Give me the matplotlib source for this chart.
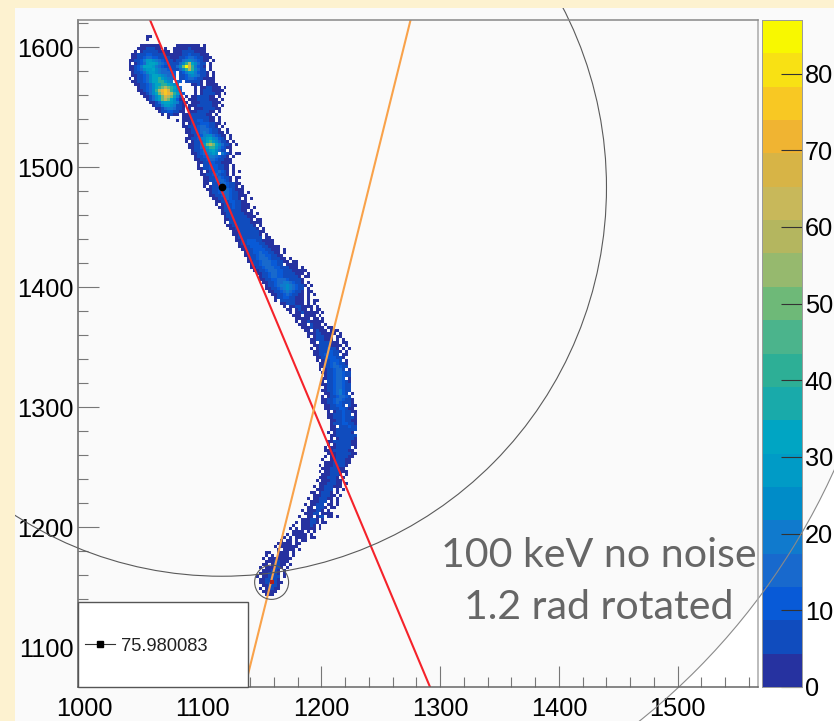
import matplotlib

matplotlib.use("Agg")
import matplotlib.pyplot as plt
import numpy as np
from matplotlib.colors import BoundaryNorm, ListedColormap
from matplotlib.patches import Ellipse, Rectangle
from matplotlib.ticker import MultipleLocator
from matplotlib.transforms import Affine2D

W, H = 834, 721
plt.rcParams["font.family"] = ["Liberation Sans", "DejaVu Sans"]

X_LIM = (994.95, 1567.6)
Y_LIM = (1066.7, 1622.5)
Z_MAX = 87.0
N_BANDS = 20

BAND_COLORS = [
    (38, 50, 160), (16, 76, 190), (8, 90, 215), (24, 105, 205), (16, 122, 205),
    (0, 140, 200), (0, 155, 198), (0, 165, 195), (25, 170, 170), (45, 175, 150),
    (75, 180, 140), (110, 185, 120), (150, 185, 110), (180, 182, 95), (200, 184, 90),
    (215, 180, 70), (240, 180, 50), (248, 200, 35), (248, 225, 20), (248, 248, 0),
]

# count read for each bucket letter used in TRACK_ROWS
BUCKET_KEYS = "123456789abcdefgjk"
BUCKET_COUNTS = [2, 3, 6, 7, 11, 15, 20, 24, 28, 33, 41, 50, 58, 67, 71, 76, 80, 85]

# histogram rows, top to bottom: first bin, then one bucket letter per bin
BIN_X0 = 1035.0
BIN_Y_TOP = 1610.0
BIN_SIZE = 2.5
TRACK_ROWS = [
    (7, "11"), (7, "1"), (0, ""),
    (5, "1122211     11122211 1"),
    (4, "12233321 1  11122322111"),
    (3, "1 2334432211 11233332111"),
    (2, "12334554433221122345433211"),
    (2, "123456655443322234566543211"),
    (1, "113457998765433234678765321 1"),
    (1, "1 23569aa9765443468bda8643 1"),
    (1, "12357aaa9765443468ckeb7532 1"),
    (1, "12356899a8766543468bdb8643 1"),
    (1, " 234568998766655 3579975432 1"),
    (2, "1234568aa987665 4357876432 1"),
    (1, "1 234568aab98765 435665432211"),
    (2, "1234568aabb987 65 344432 221"),
    (3, "1234568aabba987    2232 2211"),
    (3, " 134568abcdcba86    1 2233211 1"),
    (4, "124568bdfgeb985    2 23332211"),
    (5, "12468acegfdb985   1 2343321 1"),
    (6, "12468acedca73 1 22344321 1"),
    (7, "1368acdca8521 1123443211 1"),
    (8, "12469aa987421 1223443221"),
    (9, "13479987431 1223443321 1"),
    (10, "1246776432 1 112344321"),
    (11, "134554321 112344321 1"),
    (12, "1 2321 1123443321 1"),
    (14, "1    12234443321 1"),
    (17, "1 12234554321 1"),
    (19, "1 23345554321 1"),
    (19, "123345665432 1"),
    (20, "123456665432  1"),
    (20, "1234567654321 1"),
    (20, " 1234578865321 1"),
    (20, "12345789a87532 1"),
    (20, "1 23468ab986432 1"),
    (21, "123469cdca86431 1"),
    (21, "1234689bb975321"),
    (21, " 1345789a8643 1"),
    (22, "123567898 7532 11"),
    (22, " 134567765431 1"),
    (23, "1234566543211"),
    (24, "123455432211"),
    (24, "1 345554322 1"),
    (24, "12345554321 1"),
    (25, "1 23456542 1 1"),
    (25, "1234565432 1"),
    (25, " 1234565431 11"),
    (26, "1234566532 1"),
    (26, "12 3456654321"),
    (26, "1 2345765431 1"),
    (27, "1234577653211"),
    (27, " 234566654321 1"),
    (28, "1234566543211"),
    (29, "1234565432 1 1"),
    (30, "12344554321"),
    (30, "1 2344543211"),
    (31, "12344543211 1"),
    (31, " 234444321 1"),
    (32, "12344443211 1"),
    (32, " 23344433211"),
    (33, "1234444332 11"),
    (33, "1 33444432211"),
    (34, "1234444332 1"),
    (35, "1234444332 1"),
    (35, " 12344444321"),
    (36, "1234444332 1"),
    (36, " 234444433 11"),
    (37, "1234555432111"),
    (37, " 134555543211"),
    (38, "12345555432111"),
    (39, "1234555543211 1"),
    (39, " 234556554321 1"),
    (40, "1234566554321"),
    (40, " 1345666544321 1"),
    (41, "12345666554321 11"),
    (41, " 23456665543 2111"),
    (42, "1234566655443211 1"),
    (43, "123456665544322111"),
    (44, "1234566554433221 1"),
    (44, " 23456655444332 11"),
    (45, "123455666544332"),
    (46, "12345667765432 1"),
    (46, " 23456778765432 1"),
    (47, "1234567876543 2"),
    (48, "123456765432 11"),
    (49, "12345654321 1 1"),
    (49, " 2345543211 1"),
    (50, "1 34443221 1 11"),
    (52, "12333221 1 1"),
    (53, "1 22332211 1"),
    (54, "12 2322 1 11"),
    (55, "1 22322111 1"),
    (56, "122 2211 1"),
    (57, "12222 11 1"),
    (57, "1 22322111"),
    (58, "122 3221 1"),
    (59, "12232211 11"),
    (60, "12 23222 111"),
    (60, " 1223322211 1"),
    (61, "1 2333221 11"),
    (61, " 12333222 1 1"),
    (62, "12 3443211 11"),
    (62, " 1234432211 1"),
    (62, "1 23445432 1 1"),
    (62, " 1234455432 1"),
    (63, "123455543 11"),
    (63, " 1234555432"),
    (64, "1 2345554 1"),
    (64, " 1234565432"),
    (65, "1234566543"),
    (65, "1 2345664 1"),
    (66, "1234566543"),
    (66, " 234566543"),
    (66, "12345665 1"),
    (66, "1 34566532"),
    (66, "1234566543"),
    (66, " 234566543"),
    (66, "1234567543"),
    (67, "12456754 1"),
    (66, "1 23456654"),
    (66, "12345665431"),
    (66, "12345654431"),
    (67, "1234554 311"),
    (67, "1234455321"),
    (67, " 1 23454321"),
    (68, "12344543 1"),
    (68, "1234454431"),
    (69, "123454321"),
    (69, "134455432"),
    (69, "12 344543"),
    (69, "123344443"),
    (68, "1 2334432"),
    (69, "123344433"),
    (69, "1 2334432"),
    (68, "1233344321"),
    (68, "1 23344322"),
    (67, "1 1233443 1"),
    (67, "1223334321"),
    (68, "1223344321"),
    (67, "1 22333321"),
    (66, "1  1233321"),
    (67, "122333322"),
    (65, "1 12233332"),
    (65, " 12233321"),
    (65, "1 22333221"),
    (65, " 1223332 1"),
    (65, "1223332 1"),
    (64, "1 1223321"),
    (64, " 12233322 1"),
    (63, "1 22333221"),
    (63, " 122333 2 1"),
    (62, "12 23332 1"),
    (62, " 12233321 1"),
    (61, "1 2233322 1"),
    (61, " 122333 2 1"),
    (60, "1 22333 21 1"),
    (60, " 12 3332 21"),
    (59, "1 122332 1"),
    (59, " 12233 2211"),
    (58, "1  12 233 21 1"),
    (58, " 122332 1"),
    (57, "1 122332 11"),
    (56, "1  12232 1"),
    (55, "1 1 22221 1"),
    (55, " 1222 2 1"),
    (54, "1 12222 1"),
    (53, "1 1 2221 11"),
    (52, "1 12 2 21"),
    (51, "11222 21"),
    (50, "1 122221"),
    (50, " 1 2221 1"),
    (47, "12  1122 1"),
    (47, "1 1 1222 1"),
    (46, "1 12222221"),
    (46, " 12233222"),
    (46, "12 23322 1"),
    (45, "1 122332 1"),
    (45, " 122332 1"),
    (45, "1223332 1"),
    (44, "1 123333 1"),
    (45, "1233332"),
    (45, "12333321"),
    (45, " 123331"),
    (45, "1 23321"),
    (46, "12221"),
    (47, "121"),
]

CENTER = (1116.0, 1483.0)
START = (1158.0, 1154.0)
RADII = {"inner": 324.0, "outer": 567.0, "start": 14.3}
RED_LINE_X = [1055.6, 1291.4]
ORANGE_LINE_X = [1275.0, 1135.5]
LINE_Y = [1622.5, 1066.7]
X_TICKS = [1000, 1100, 1200, 1300, 1400, 1500]
Y_TICKS = [1100, 1200, 1300, 1400, 1500, 1600]
Z_TICKS = [0, 10, 20, 30, 40, 50, 60, 70, 80]
LEGEND_LABEL = "75.980083"
NOTE_LINES = ["100 keV no noise", "1.2 rad rotated"]


def track_grid():
    n_cols = max(start + len(levels) for start, levels in TRACK_ROWS)
    grid = np.full((len(TRACK_ROWS), n_cols), np.nan)
    counts = dict(zip(BUCKET_KEYS, BUCKET_COUNTS))
    for row, (start, levels) in enumerate(TRACK_ROWS):
        for i, ch in enumerate(levels):
            if ch != " ":
                grid[row, start + i] = counts[ch]
    return grid


def axes_rect(left, top, right, bottom):
    return [left / W, 1 - bottom / H, (right - left) / W, (bottom - top) / H]


def main():
    fig = plt.figure(figsize=(W / 100, H / 100), dpi=100, facecolor="#fdf2d0")
    to_px = Affine2D().scale(1, -1).translate(0, H)
    colors = np.array(BAND_COLORS) / 255
    cmap = ListedColormap(colors)
    bounds = np.linspace(0, Z_MAX, N_BANDS + 1)
    norm = BoundaryNorm(bounds, N_BANDS)
    pad = Rectangle((15, 8), W - 15, H - 8, transform=to_px, facecolor="white", edgecolor="none")
    fig.add_artist(pad)
    pad.set_zorder(-1)

    plot_rect = axes_rect(78, 20, 758, 687)
    bg = fig.add_axes(plot_rect, zorder=0)
    bg.set_xlim(X_LIM)
    bg.set_ylim(Y_LIM)
    bg.axis("off")
    fill = Ellipse(CENTER, 2 * RADII["outer"], 2 * RADII["outer"], facecolor="#fafafa", edgecolor="none")
    bg.add_patch(fill)
    fill.set_clip_path(Rectangle((15, 8), W - 15, H - 8, transform=to_px))

    # palette
    cax = fig.add_axes(axes_rect(762, 20, 802, 687), zorder=1)
    cax.pcolormesh([0, 1], bounds, (bounds[:-1] + bounds[1:]).reshape(-1, 1) / 2, cmap=cmap, norm=norm)
    cax.set_xlim(0, 1)
    cax.set_ylim(0, Z_MAX)
    cax.set_xticks([])
    cax.set_yticks(Z_TICKS)
    cax.yaxis.tick_right()
    cax.tick_params(axis="y", direction="in", length=15, width=0.8, pad=2, labelsize=18.3, color="#333333")
    for spine in cax.spines.values():
        spine.set_color("#9a9a9a")
        spine.set_linewidth(0.7)

    ax = fig.add_axes(plot_rect, zorder=2)
    ax.patch.set_visible(False)
    grid = track_grid()
    x_edges = BIN_X0 + BIN_SIZE * np.arange(grid.shape[1] + 1)
    y_edges = BIN_Y_TOP - BIN_SIZE * np.arange(grid.shape[0] + 1)
    ax.pcolormesh(x_edges, y_edges, np.ma.masked_invalid(grid), cmap=cmap, norm=norm, antialiased=False)

    ax.plot(RED_LINE_X, LINE_Y, color="#f5222a", lw=1.5, zorder=2.2)
    ax.plot(ORANGE_LINE_X, LINE_Y, color="#f9a24a", lw=1.5, zorder=2.2)
    ax.plot(*CENTER, "o", color="black", ms=4.5, zorder=2.4)
    ax.plot(*START, "s", color="#b0201c", ms=3.2, mew=0, zorder=2.4)

    clip = Rectangle((15, 8), W - 15, H - 8, transform=to_px)
    for key, edge in (("inner", "#5a5a5a"), ("outer", "#8a8a8a"), ("start", "#5a5a5a")):
        circle = Ellipse(CENTER if key != "start" else START, 2 * RADII[key], 2 * RADII[key],
                         facecolor="none", edgecolor=edge, lw=0.8, zorder=2.3)
        ax.add_patch(circle)
        circle.set_clip_path(clip)

    ax.set_xlim(X_LIM)
    ax.set_ylim(Y_LIM)
    ax.set_xticks(X_TICKS)
    ax.set_yticks(Y_TICKS)
    ax.xaxis.set_minor_locator(MultipleLocator(20))
    ax.yaxis.set_minor_locator(MultipleLocator(20))
    ax.tick_params(which="major", direction="in", length=15, width=0.8, color="#777777", labelsize=18.3)
    ax.tick_params(which="minor", direction="in", length=7.5, width=0.8, color="#777777")
    ax.tick_params(axis="x", which="major", pad=7)
    ax.tick_params(axis="y", which="major", pad=3)
    for side, col in (("left", "#666666"), ("bottom", "#666666"), ("top", "#888888"), ("right", "#aaaaaa")):
        ax.spines[side].set_color(col)
        ax.spines[side].set_linewidth(1.1)

    # legend box
    ax.add_patch(Rectangle((78, 602), 170, 85, transform=to_px, facecolor="white",
                           edgecolor="#555555", lw=1.0, zorder=3, clip_on=False))
    ax.plot([85, 115], [643.5, 643.5], transform=to_px, color="#333333", lw=0.8, zorder=3.1, clip_on=False)
    ax.plot([99.5], [643.5], "s", transform=to_px, color="black", ms=4.2, zorder=3.2, clip_on=False)
    ax.text(121, 651, LEGEND_LABEL, transform=to_px, fontsize=13.2, color="#222222", zorder=3.2)

    # slide note
    ax.text(599, 567, NOTE_LINES[0], transform=to_px, ha="center", va="baseline", family="Lato",
            fontsize=29.6, color="#666666", zorder=3.3)
    ax.text(599, 619, NOTE_LINES[1], transform=to_px, ha="center", va="baseline", family="Lato",
            fontsize=29.6, color="#666666", zorder=3.3)

    fig.savefig("out.png", dpi=100, facecolor=fig.get_facecolor())
    plt.close(fig)


if __name__ == "__main__":
    main()
